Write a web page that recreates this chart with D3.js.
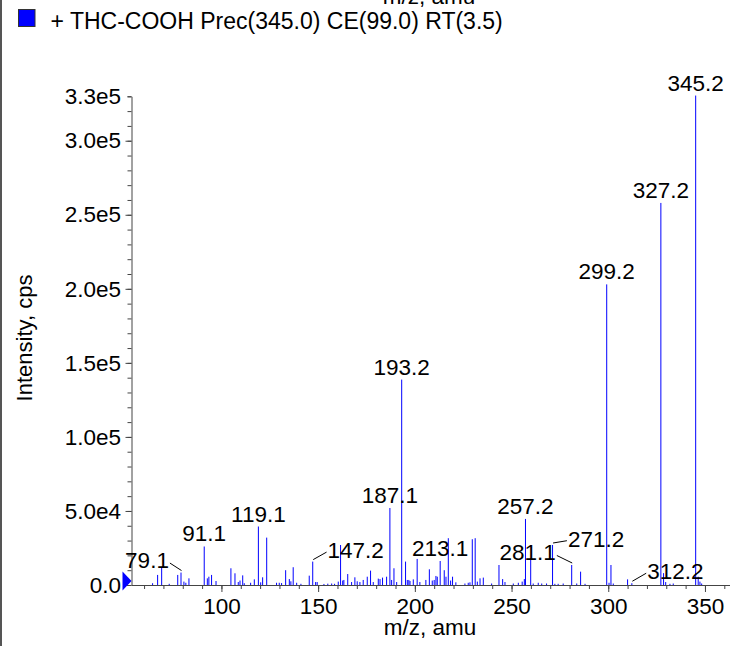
<!DOCTYPE html>
<html>
<head>
<meta charset="utf-8">
<script src="https://cdn.jsdelivr.net/npm/d3@7"></script>
<style>
  body { margin: 0; background: #fff; }
  svg { display: block; font-family: "Liberation Sans", Arial, Helvetica, sans-serif; }
</style>
</head>
<body>
<div id="chart"></div>
<script>
// spectrum, m/z and intensity (cps)
var mz = [64.4, 67.0, 69.1, 73.0, 77.4, 79.1, 80.6, 81.6, 83.2, 91.1, 92.7, 93.5, 94.9, 97.2,
  104.9, 107.0, 108.7, 109.6, 111.0, 111.8, 115.1, 117.0, 119.1, 120.3, 121.3, 123.4,
  128.5, 129.9, 131.1, 133.2, 135.1, 135.9, 137.1, 138.9, 141.1, 145.4, 147.2, 148.7, 149.5,
  153.0, 155.0, 157.0, 158.5, 160.4, 161.6, 162.7, 163.3, 165.3, 167.3, 169.0, 170.2, 171.6,
  173.3, 175.4, 177.1, 178.5, 181.1, 182.0, 183.3, 185.4, 187.1, 188.0, 189.2, 190.6, 193.2,
  195.2, 196.1, 196.9, 197.5, 199.2, 201.2, 202.6, 205.7, 207.5, 209.0, 210.0, 210.9, 211.6,
  213.1, 215.2, 216.1, 217.3, 218.5, 219.5, 221.2, 225.9, 227.6, 228.5, 229.7, 231.2, 232.3,
  233.7, 235.4, 239.7, 243.5, 245.4, 246.6, 250.9, 253.5, 255.5, 256.6, 257.2, 259.9, 261.2,
  263.8, 265.6, 268.1, 271.2, 272.4, 274.1, 276.7, 281.1, 283.7, 285.7, 288.0, 299.2, 300.4,
  301.4, 302.6, 310.0, 312.2, 327.2, 328.6, 329.7, 331.9, 333.6, 345.2, 346.5, 347.4, 348.3];
var intensity = [1200, 6800, 12000, 800, 6800, 8400, 2300, 1500, 4500, 26000, 4500, 5600, 6800, 2700,
  11300, 7900, 2000, 3000, 6500, 1200, 1500, 3800, 39500, 1800, 5200, 32000,
  1500, 1500, 1300, 10000, 4000, 2500, 12000, 1500, 800, 6300, 15800, 2000, 2000,
  700, 900, 1000, 800, 2300, 27000, 3000, 3400, 7400, 2000, 5200, 2500, 2000,
  3400, 5600, 9700, 2000, 4300, 4000, 5000, 5600, 52000, 3400, 11300, 2000, 138700,
  15800, 3400, 3400, 2700, 3800, 17600, 2000, 3400, 10600, 3000, 3400, 6100, 5600,
  16200, 10000, 5600, 31600, 3000, 5600, 1800, 1000, 1500, 1800, 30900, 31600, 2300,
  4500, 5000, 1000, 13500, 4000, 2000, 1000, 1500, 2300, 4000, 44600, 16900, 1000,
  1500, 1000, 1000, 27000, 800, 800, 1000, 13500, 1000, 9000, 800, 203000, 1500,
  13500, 1000, 3800, 1200, 258000, 8000, 2000, 800, 1000, 330500, 5600, 2300, 1000];

var labelMz = [79.1, 91.1, 119.1, 147.2, 187.1, 193.2, 213.1, 257.2, 271.2, 281.1, 299.2, 312.2, 327.2, 345.2];
// label shifts (px) for the crowded ones, a leader line is drawn when shifted
var labelShift = [[-34, 0], [0, 0], [0, 0], [43, 1.5], [0, 0], [0, 0], [0, 0], [0, 0],
  [43.5, 6.7], [-44, 0], [0, 0], [43.5, 1], [0, 0], [0, 0]];

var xMajor = [100, 150, 200, 250, 300, 350];
var xMinor = d3.range(60, 361, 10);
var yMajor = [0, 50000, 100000, 150000, 200000, 250000, 300000, 330000];
var yLabels = ["0.0", "5.0e4", "1.0e5", "1.5e5", "2.0e5", "2.5e5", "3.0e5", "3.3e5"];
var yMinor = d3.range(0, 330001, 10000);

var title = "+ THC-COOH Prec(345.0) CE(99.0) RT(3.5)";

var W = 730, H = 646;
var fs = "22.5px";
var svg = d3.select("#chart").append("svg")
    .attr("width", W)
    .attr("height", H);

var x = d3.scaleLinear()
    .domain([53.5, 363])
    .range([131.5, 730.1]);

var y = d3.scaleLinear()
    .domain([0, 330000])
    .range([585, 96.3]);

// panel frame on the left
svg.append("line")
    .attr("x1", 1).attr("x2", 1)
    .attr("y1", 0).attr("y2", H)
    .attr("stroke", "#555")
    .attr("stroke-width", 2);

// x title of the panel above, only its lower edge shows
svg.append("text")
    .attr("x", 429).attr("y", 4)
    .attr("text-anchor", "middle")
    .attr("font-size", fs)
    .text("m/z, amu");

// legend
svg.append("rect")
    .attr("x", 18.5).attr("y", 9.5)
    .attr("width", 16.5).attr("height", 17)
    .attr("fill", "#0000ff")
    .attr("stroke", "#333");
svg.append("text")
    .attr("x", 50.5).attr("y", 28.5)
    .attr("font-size", "23px")
    .text(title);

// minor ticks
svg.append("g")
    .attr("transform", "translate(0,585)")
    .call(d3.axisBottom(x).tickValues(xMinor).tickSize(4).tickFormat("").tickSizeOuter(0))
    .call(function(g) { g.select(".domain").remove(); });
svg.append("g")
    .attr("transform", "translate(131.5,0)")
    .call(d3.axisLeft(y).tickValues(yMinor).tickSize(4).tickFormat("").tickSizeOuter(0))
    .call(function(g) { g.select(".domain").remove(); });

var xAxis = svg.append("g")
    .attr("transform", "translate(0,585)")
    .call(d3.axisBottom(x).tickValues(xMajor).tickSize(7).tickPadding(6.5).tickSizeOuter(0));

var yAxis = svg.append("g")
    .attr("transform", "translate(131.5,0)")
    .call(d3.axisLeft(y).tickValues(yMajor).tickSize(6).tickPadding(4.5).tickSizeOuter(0)
        .tickFormat(function(d, i) { return yLabels[i]; }));
yAxis.selectAll(".tick").filter(function(d) { return d == 330000; }).select("line").attr("x2", -4);

svg.selectAll(".tick text").attr("font-size", fs).attr("fill", "#000")
    .attr("font-family", "'Liberation Sans', Arial, Helvetica, sans-serif");
svg.selectAll(".domain, .tick line").attr("stroke", "#444");

// spectrum sticks
svg.append("g").selectAll("line")
    .data(mz)
    .enter().append("line")
    .attr("x1", function(d) { return x(d); })
    .attr("x2", function(d) { return x(d); })
    .attr("y1", y(0))
    .attr("y2", function(d, i) { return y(intensity[i]); })
    .attr("stroke", "#0000ff")
    .attr("stroke-width", 1);

// blue marker on the zero line
var yc = y(0) - 4, x0 = x.range()[0];
svg.append("path")
    .attr("d", "M" + (x0 - 9) + "," + (yc - 9.5) + "L" + (x0 - 9) + "," + (yc + 9.5) + "L" + x0 + "," + yc + "Z")
    .attr("fill", "#0000ff");

// peak labels
labelMz.forEach(function(m, i) {
    var v = intensity[mz.indexOf(m)];
    var px = x(m), top = y(v);
    var dx = labelShift[i][0], dy = labelShift[i][1];
    var t = svg.append("text")
        .attr("x", px + dx)
        .attr("y", top - 5 + dy)
        .attr("text-anchor", "middle")
        .attr("font-size", fs)
        .text(m.toFixed(1));
    if (dx != 0) {
        var w = t.node().getComputedTextLength();
        var bl = top - 5 + dy;
        var lx = dx > 0 ? px + dx - w / 2 - 1 : px + dx + w / 2 + 1;
        var ly = dx > 0 ? bl - 6 : bl - 4.5;
        svg.append("line")
            .attr("x1", px + 0.5).attr("y1", top - 2)
            .attr("x2", lx).attr("y2", ly)
            .attr("stroke", "#000")
            .attr("stroke-width", 1);
    }
});

// axis titles
svg.append("text")
    .attr("x", 430).attr("y", 635)
    .attr("text-anchor", "middle")
    .attr("font-size", fs)
    .text("m/z, amu");
svg.append("text")
    .attr("transform", "translate(31.5,338) rotate(-90)")
    .attr("text-anchor", "middle")
    .attr("font-size", "22px")
    .text("Intensity, cps");
</script>
</body>
</html>
